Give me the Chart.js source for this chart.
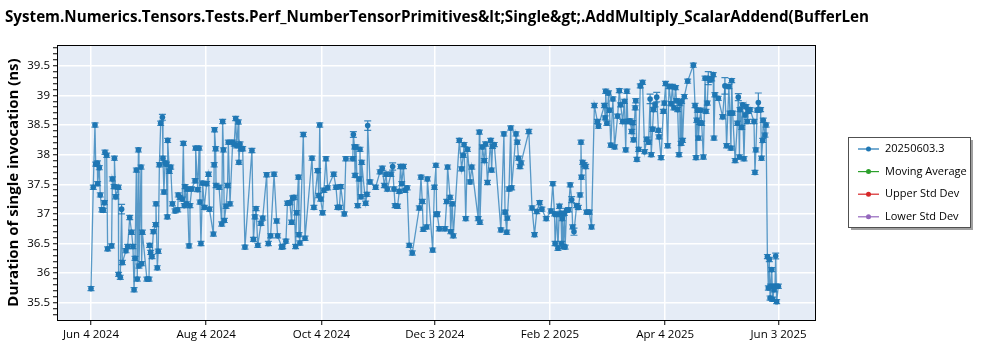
<!DOCTYPE html>
<html>
<head>
<meta charset="utf-8">
<style>
  html, body { margin: 0; padding: 0; background: #fff; }
  #wrap { position: relative; width: 1000px; height: 350px; }
</style>
<script src="https://cdn.jsdelivr.net/npm/chart.js@4.4.1/dist/chart.umd.min.js"></script>
</head>
<body>
<div id="wrap"><canvas id="c" width="1000" height="350"></canvas></div>
<script>
const TITLE = 'System.Numerics.Tensors.Tests.Perf_NumberTensorPrimitives&lt;Single&gt;.AddMultiply_ScalarAddend(BufferLen';
const Y_TITLE = 'Duration of single invocation (ns)';

// run dates as days after 2024-06-04
const runDay = [
  0, 1.2, 2.1, 2.5, 3.4, 3.5, 4.4, 4.9, 5.8, 6.5,
  7.1, 7.4, 8.3, 8.8, 10.9, 11.3, 12.2, 12.4, 13.1, 14.5,
  14.6, 15.5, 16.2, 16.6, 18.5, 19.4, 20.5, 21.5, 22.2, 22.8,
  23.3, 24.0, 24.5, 25.1, 25.4, 26.5, 26.8, 27.2, 29.6, 30.7,
  31.0, 31.6, 32.3, 33.0, 34.2, 34.4, 35.1, 35.6, 36.2, 36.9,
  37.8, 38.1, 38.6, 39.2, 39.9, 40.4, 40.6, 41.5, 42.2, 43.1,
  44.5, 45.9, 46.2, 47.1, 48.3, 48.9, 49.4, 49.8, 50.6, 51.0,
  51.9, 52.4, 53.3, 55.1, 55.4, 56.5, 57.2, 57.7, 58.2, 59.1,
  60.0, 61.2, 62.2, 62.7, 64.8, 65.2, 65.4, 66.0, 66.2, 67.8,
  69.2, 69.7, 70.1, 70.6, 71.5, 72.3, 72.7, 73.6, 75.0, 75.8,
  76.6, 77.1, 78.0, 78.3, 78.9, 79.4, 80.3, 81.5, 85.2, 86.0,
  86.8, 87.4, 88.3, 90.0, 90.9, 93.0, 93.9, 95.1, 96.9, 98.3,
  98.8, 101.0, 101.5, 103.2, 104.0, 105.3, 106.2, 106.8, 107.5, 108.3,
  108.9, 109.8, 110.1, 110.6, 112.4, 113.3, 117.0, 118.0, 120.0, 120.6,
  121.1, 121.6, 122.6, 123.3, 124.4, 125.3, 128.5, 129.7, 130.6, 131.5,
  132.2, 134.1, 134.9, 138.6, 138.9, 139.5, 139.8, 140.3, 141.2, 141.9,
  142.4, 143.0, 143.3, 145.4, 146.1, 146.5, 147.7, 150.7, 153.0, 154.2,
  155.3, 156.2, 156.9, 158.8, 159.7, 160.4, 161.0, 162.3, 163.2, 163.9,
  164.5, 165.4, 166.2, 167.4, 168.5, 170.1, 173.8, 174.7, 175.4, 175.9,
  177.7, 178.1, 180.9, 181.8, 182.6, 183.0, 183.3, 184.4, 187.4, 188.3,
  188.8, 190.1, 190.4, 191.3, 191.8, 195.0, 196.2, 197.1, 197.5, 198.4,
  199.3, 200.7, 201.6, 205.0, 205.6, 205.9, 207.2, 208.2, 208.9, 209.9,
  211.6, 212.1, 212.6, 213.5, 217.0, 218.6, 219.2, 220.1, 220.4, 221.3,
  222.2, 222.7, 225.0, 225.7, 226.3, 227.1, 227.7, 231.8, 233.5, 234.8,
  236.0, 237.5, 238.7, 241.0, 243.5, 244.5, 245.4, 245.7, 246.6, 247.2,
  248.0, 248.8, 249.2, 249.5, 250.0, 250.6, 251.0, 251.8, 252.8, 253.7,
  254.5, 255.0, 255.7, 257.1, 258.0, 258.9, 259.4, 259.7, 260.3, 261.1,
  261.9, 262.4, 263.8, 265.0, 266.5, 268.1, 268.6, 271.8, 272.2, 272.5,
  273.1, 274.0, 274.5, 275.2, 276.3, 277.2, 278.8, 279.7, 280.4, 281.5,
  282.4, 283.1, 283.7, 284.2, 285.4, 286.3, 286.8, 287.2, 288.1, 288.4,
  289.0, 289.9, 290.8, 292.0, 293.1, 294.3, 295.2, 296.0, 296.6, 297.3,
  297.8, 298.6, 299.5, 300.4, 300.7, 301.8, 303.0, 303.5, 304.2, 305.3,
  306.0, 307.1, 307.8, 308.6, 309.5, 310.0, 310.6, 311.3, 311.8, 312.4,
  312.7, 313.2, 314.1, 315.9, 318.9, 319.8, 320.3, 320.7, 321.0, 321.6,
  322.1, 322.8, 323.3, 324.2, 325.1, 325.6, 326.3, 326.8, 327.7, 328.6,
  329.4, 329.8, 330.3, 332.1, 334.4, 335.6, 336.5, 337.7, 338.3, 338.8,
  339.2, 339.7, 341.0, 342.2, 342.7, 343.3, 343.6, 344.5, 345.0, 345.7,
  346.3, 346.8, 347.5, 348.0, 348.9, 351.0, 351.5, 352.0, 352.7, 353.3,
  353.8, 354.5, 355.0, 355.6, 355.9, 356.8, 357.4, 358.1, 358.6, 359.1,
  359.5, 359.8, 360.4, 360.9, 361.6, 362.1, 362.5, 363.0, 363.9
];

// mean duration per run, ns
const meanNs = [
  35.74, 37.45, 38.50, 37.84, 37.86, 37.51, 37.78, 37.32, 37.07, 37.06,
  37.19, 38.04, 37.99, 36.41, 36.46, 37.59, 37.46, 37.94, 37.29, 37.45,
  35.98, 35.93, 37.08, 36.18, 36.38, 36.45, 36.94, 36.69, 36.45, 35.72,
  36.25, 37.74, 35.90, 38.08, 36.12, 37.79, 36.16, 36.69, 35.90, 35.90,
  36.47, 36.35, 36.28, 36.70, 36.82, 37.17, 36.09, 36.37, 37.83, 38.53,
  38.63, 37.94, 37.37, 37.86, 37.84, 36.95, 38.24, 37.72, 37.79, 37.17,
  37.05, 37.07, 37.32, 37.28, 37.25, 38.19, 37.14, 37.46, 37.17, 37.42,
  36.46, 37.14, 37.42, 37.56, 38.11, 37.41, 38.11, 37.20, 36.50, 37.52,
  37.11, 37.51, 37.67, 37.08, 36.66, 37.83, 38.42, 38.10, 37.48, 37.45,
  36.83, 38.56, 38.08, 36.89, 37.13, 37.48, 38.21, 37.17, 38.21, 38.18,
  38.61, 38.15, 38.55, 37.87, 38.18, 38.10, 38.10, 36.44, 38.07, 36.57,
  36.95, 37.09, 36.47, 36.84, 36.93, 37.66, 36.50, 36.63, 37.67, 36.88,
  36.63, 36.44, 36.45, 36.54, 37.18, 37.19, 36.86, 37.27, 37.28, 36.45,
  37.02, 37.62, 36.65, 36.51, 38.34, 36.59, 37.94, 37.11, 37.73, 37.31,
  38.50, 37.25, 37.02, 37.40, 37.93, 37.44, 37.67, 37.45, 37.11, 37.11,
  37.46, 37.00, 37.93, 37.93, 38.34, 38.13, 37.65, 38.13, 37.14, 37.59,
  38.09, 37.29, 37.87, 37.18, 37.33, 38.49, 37.54, 37.45, 37.71, 37.77,
  37.48, 37.67, 37.42, 37.67, 37.80, 37.42, 37.14, 37.13, 37.38, 37.80,
  37.51, 37.80, 37.40, 37.44, 36.47, 36.34, 37.10, 37.62, 37.21, 36.74,
  36.78, 37.59, 36.39, 37.45, 37.82, 36.99, 37.00, 36.75, 36.75, 37.21,
  37.79, 37.28, 36.70, 37.17, 36.63, 38.24, 37.76, 37.99, 38.17, 36.92,
  38.09, 37.54, 37.79, 36.92, 38.38, 36.86, 38.13, 37.90, 38.18, 37.53,
  38.24, 37.74, 38.14, 38.17, 36.73, 38.35, 37.03, 36.69, 36.93, 37.42,
  38.45, 37.44, 38.35, 38.21, 37.94, 37.80, 37.86, 38.39, 37.10, 36.65,
  37.04, 37.19, 37.08, 36.92, 37.05, 37.51, 37.00, 36.50, 36.99, 36.42,
  37.13, 37.01, 36.50, 36.92, 36.45, 37.01, 36.44, 37.06, 37.07, 37.49,
  37.24, 36.78, 36.70, 37.14, 37.11, 37.32, 38.21, 37.62, 37.87, 37.83,
  37.80, 37.03, 37.03, 36.78, 38.83, 38.56, 38.48, 38.83, 38.62, 39.07,
  38.53, 39.04, 38.75, 38.16, 38.94, 38.13, 38.65, 39.08, 38.84, 38.56,
  38.90, 38.08, 39.07, 38.56, 38.57, 38.39, 38.54, 38.25, 38.79, 38.91,
  37.92, 38.09, 39.16, 39.22, 38.05, 38.26, 38.21, 38.94, 38.00, 38.43,
  38.76, 38.84, 38.97, 38.41, 38.30, 37.95, 38.73, 38.87, 39.20, 38.15,
  39.15, 38.86, 39.15, 38.79, 39.13, 38.91, 38.76, 38.00, 38.86, 38.19,
  38.90, 38.24, 38.98, 39.24, 39.51, 38.83, 37.95, 38.58, 38.75, 38.28,
  38.54, 38.75, 38.53, 37.96, 39.29, 38.73, 38.87, 39.29, 39.26, 39.28,
  39.35, 38.28, 39.01, 38.95, 38.64, 39.16, 38.15, 39.15, 38.70, 38.11,
  39.25, 38.70, 37.90, 38.53, 38.97, 37.96, 38.76, 38.46, 38.84, 37.93,
  38.67, 38.81, 38.56, 38.73, 38.76, 38.56, 37.70, 38.08, 38.75, 38.88,
  38.76, 38.76, 37.94, 38.24, 38.58, 38.33, 38.50, 36.28, 35.75, 36.23,
  35.58, 35.78, 36.06, 35.56, 35.72, 35.78, 36.29, 35.52, 35.78
];

// runs whose error bar is wider than the marker: [day, half width ns]
const wideSpread = [
  [16.2, 0.08], [37.8, 0.05], [138.9, 0.05], [146.5, 0.08], [159.7, 0.06],
  [254.5, 0.05], [255.7, 0.06], [296.0, 0.08], [299.5, 0.08], [326.8, 0.11],
  [335.6, 0.14], [342.7, 0.06], [353.3, 0.16], [362.5, 0.05]
];

const xTickDays = [0, 61, 122, 182, 243, 304, 364];
const xTickLabels = ['Jun 4 2024', 'Aug 4 2024', 'Oct 4 2024', 'Dec 3 2024', 'Feb 2 2025', 'Apr 4 2025', 'Jun 3 2025'];
const yTickLabels = [35.5, 36, 36.5, 37, 37.5, 38, 38.5, 39, 39.5];

const seriesNames = ['20250603.3', 'Moving Average', 'Upper Std Dev', 'Lower Std Dev'];
const seriesColors = ['#1f77b4', '#2ca02c', '#d62728', '#9467bd'];

const FONT = '"Open Sans", "Noto Sans", sans-serif';
const isMajor = v => yTickLabels.some(t => Math.abs(t - v) < 1e-6);

const plotDeco = {
  id: 'plotDeco',
  beforeDraw(chart){
    const {ctx, chartArea:a} = chart;
    ctx.save();
    ctx.fillStyle = '#e5ecf6';
    ctx.fillRect(a.left, a.top, a.right - a.left, a.bottom - a.top);
    ctx.restore();
  },
  beforeDatasetsDraw(chart){
    // error bars for the run series
    const {ctx, chartArea:a} = chart;
    const xs = chart.scales.x, ys = chart.scales.y;
    ctx.save();
    ctx.beginPath();
    ctx.rect(a.left, a.top, a.right - a.left, a.bottom - a.top);
    ctx.clip();
    ctx.strokeStyle = 'rgba(31,119,180,0.85)';
    ctx.lineWidth = 1.2;
    runDay.forEach((d, i) => {
      const w = wideSpread.find(s => Math.abs(s[0] - d) < 1e-6);
      const half = w ? w[1] : 0.035;
      const x = xs.getPixelForValue(d);
      const y1 = ys.getPixelForValue(meanNs[i] + half);
      const y2 = ys.getPixelForValue(meanNs[i] - half);
      ctx.beginPath();
      ctx.moveTo(x, y1); ctx.lineTo(x, y2);
      ctx.moveTo(x - 3.5, y1); ctx.lineTo(x + 3.5, y1);
      ctx.moveTo(x - 3.5, y2); ctx.lineTo(x + 3.5, y2);
      ctx.stroke();
    });
    ctx.restore();
  },
  afterDraw(chart){
    const {ctx, chartArea:a} = chart;
    ctx.save();
    // frame
    ctx.strokeStyle = '#000';
    ctx.lineWidth = 1;
    ctx.strokeRect(Math.round(a.left) + 0.5, Math.round(a.top) + 0.5, Math.round(a.right - a.left), Math.round(a.bottom - a.top));
    // title
    ctx.fillStyle = '#000';
    ctx.font = 'bold 15.2px ' + FONT;
    ctx.textBaseline = 'middle';
    ctx.textAlign = 'left';
    ctx.fillText(TITLE, 5, 18);
    // legend box
    const lx = 848, ly = 137, lw = 122, lh = 90;
    ctx.fillStyle = '#a0a0a0';
    ctx.fillRect(lx + 3, ly + 3, lw, lh);
    ctx.fillStyle = '#fff';
    ctx.fillRect(lx, ly, lw, lh);
    ctx.strokeStyle = '#505050';
    ctx.strokeRect(lx + 0.5, ly + 0.5, lw, lh);
    ctx.font = '11px ' + FONT;
    chart.data.datasets.forEach((ds, i) => {
      const y = ly + 12 + i * 22.6;
      ctx.strokeStyle = ds.borderColor;
      ctx.lineWidth = 1.2;
      ctx.beginPath(); ctx.moveTo(lx + 10, y); ctx.lineTo(lx + 31, y); ctx.stroke();
      ctx.fillStyle = ds.borderColor;
      ctx.beginPath(); ctx.arc(lx + 20.5, y, 2.5, 0, Math.PI * 2); ctx.fill();
      ctx.fillStyle = '#000';
      ctx.fillText(ds.label, lx + 37, y);
    });
    ctx.restore();
  }
};

new Chart(document.getElementById('c'), {
  type: 'line',
  data: {
    datasets: seriesNames.map((name, i) => ({
      label: name,
      data: i === 0 ? runDay.map((d, k) => ({x: d, y: meanNs[k]})) : [],
      borderColor: seriesColors[i],
      backgroundColor: seriesColors[i],
      borderWidth: 1.3,
      pointRadius: 2.8,
      pointBorderWidth: 0,
      pointBackgroundColor: seriesColors[i],
      tension: 0,
      segment: i === 0 ? {borderColor: 'rgba(31,119,180,0.72)'} : undefined
    }))
  },
  options: {
    responsive: false,
    animation: false,
    events: [],
    layout: {padding: {top: 45, right: 185, bottom: 0, left: 0}},
    plugins: {legend: {display: false}, title: {display: false}, tooltip: {enabled: false}},
    scales: {
      x: {
        type: 'linear',
        min: -18,
        max: 383.3,
        afterFit(s){ s.height = 30; },
        afterBuildTicks(s){ s.ticks = xTickDays.map(v => ({value: v})); },
        ticks: {
          autoSkip: false, maxRotation: 0, padding: 3,
          color: '#000', font: {family: FONT, size: 11.5},
          callback: (v, i) => xTickLabels[i]
        },
        grid: {color: '#fff', lineWidth: 1.5, tickColor: '#000', tickLength: 5, tickWidth: 1},
        border: {display: false}
      },
      y: {
        type: 'linear',
        min: 35.21,
        max: 39.85,
        afterFit(s){ s.width = 57; },
        afterBuildTicks(s){
          const ticks = [];
          for (let k = Math.ceil(s.min * 10); k <= Math.floor(s.max * 10); k++) ticks.push({value: k / 10});
          s.ticks = ticks;
        },
        ticks: {
          autoSkip: false, padding: 3,
          color: '#000', font: {family: FONT, size: 11.5},
          callback: v => isMajor(v) ? String(+v.toFixed(1)) : ''
        },
        grid: {
          color: c => isMajor(c.tick.value) ? '#fff' : 'rgba(0,0,0,0)',
          lineWidth: 1.5,
          tickColor: '#000',
          tickLength: 4,
          tickWidth: 1
        },
        border: {display: false},
        title: {
          display: true, text: Y_TITLE, color: '#000',
          font: {family: FONT, size: 15, weight: 'bold'}, padding: {top: 5, bottom: 0}
        }
      }
    }
  },
  plugins: [plotDeco]
});
</script>
</body>
</html>
